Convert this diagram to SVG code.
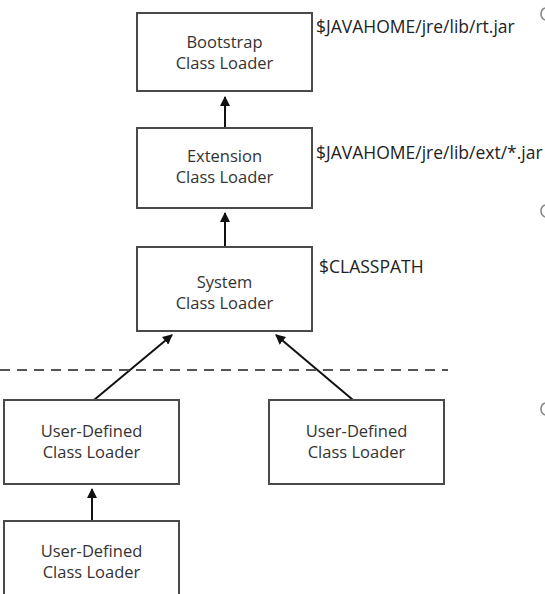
<svg xmlns="http://www.w3.org/2000/svg" width="545" height="594" viewBox="0 0 545 594">
<defs>
<style>
.box{fill:#ffffff;stroke:#4a4a4a;stroke-width:2}
.lbl{font-family:"Open Sans","Noto Sans","Liberation Sans",sans-serif;font-size:16.5px;fill:#333;text-anchor:middle}
.path{font-family:"Open Sans","Noto Sans","Liberation Sans",sans-serif;font-size:17.5px;fill:#222}
.conn{stroke:#111;stroke-width:2;fill:none;marker-end:url(#ah)}
.mark{stroke:#888;stroke-width:1.6;fill:none}
</style>
<marker id="ah" viewBox="0 0 10 10" refX="9" refY="5" markerWidth="5" markerHeight="5" orient="auto" markerUnits="strokeWidth">
<path d="M0,0 L10,5 L0,10 z" fill="#111"/>
</marker>
</defs>
<rect width="545" height="594" fill="#ffffff"/>
<g id="connectors">
<line class="conn" x1="225" y1="127" x2="225" y2="97"/>
<line class="conn" x1="225" y1="246" x2="225" y2="213"/>
<line class="conn" x1="94" y1="400" x2="172" y2="335"/>
<line class="conn" x1="353" y1="400" x2="276" y2="335"/>
<line class="conn" x1="92" y1="520" x2="92" y2="489"/>
<line x1="0" y1="370" x2="448" y2="370" stroke="#555" stroke-width="2" stroke-dasharray="10,7"/>
</g>
<g id="bootstrap">
<rect class="box" x="137" y="13" width="175" height="78"/>
<text class="lbl" x="224.5" y="48">Bootstrap</text>
<text class="lbl" x="224.5" y="69">Class Loader</text>
<text class="path" x="316" y="33">$JAVAHOME/jre/lib/rt.jar</text>
</g>
<g id="extension">
<rect class="box" x="137" y="128" width="175" height="80"/>
<text class="lbl" x="224.5" y="162">Extension</text>
<text class="lbl" x="224.5" y="183">Class Loader</text>
<text class="path" x="316" y="159">$JAVAHOME/jre/lib/ext/*.jar</text>
</g>
<g id="system">
<rect class="box" x="137" y="247" width="175" height="84"/>
<text class="lbl" x="224.5" y="288">System</text>
<text class="lbl" x="224.5" y="309">Class Loader</text>
<text class="path" x="319" y="273">$CLASSPATH</text>
</g>
<g id="user1">
<rect class="box" x="4" y="400" width="175" height="84"/>
<text class="lbl" x="91.5" y="437">User-Defined</text>
<text class="lbl" x="91.5" y="458">Class Loader</text>
</g>
<g id="user2">
<rect class="box" x="269" y="400" width="175" height="84"/>
<text class="lbl" x="356.5" y="437">User-Defined</text>
<text class="lbl" x="356.5" y="458">Class Loader</text>
</g>
<g id="user3">
<rect class="box" x="4" y="521" width="175" height="80"/>
<text class="lbl" x="91.5" y="557">User-Defined</text>
<text class="lbl" x="91.5" y="578">Class Loader</text>
</g>
<g id="edge-marks">
<path class="mark" d="M545,8 A6.5,6.5 0 0 0 545,20"/>
<path class="mark" d="M545,205 A6.5,6.5 0 0 0 545,217"/>
<path class="mark" d="M545,403 A6.5,6.5 0 0 0 545,415"/>
</g>
</svg>
